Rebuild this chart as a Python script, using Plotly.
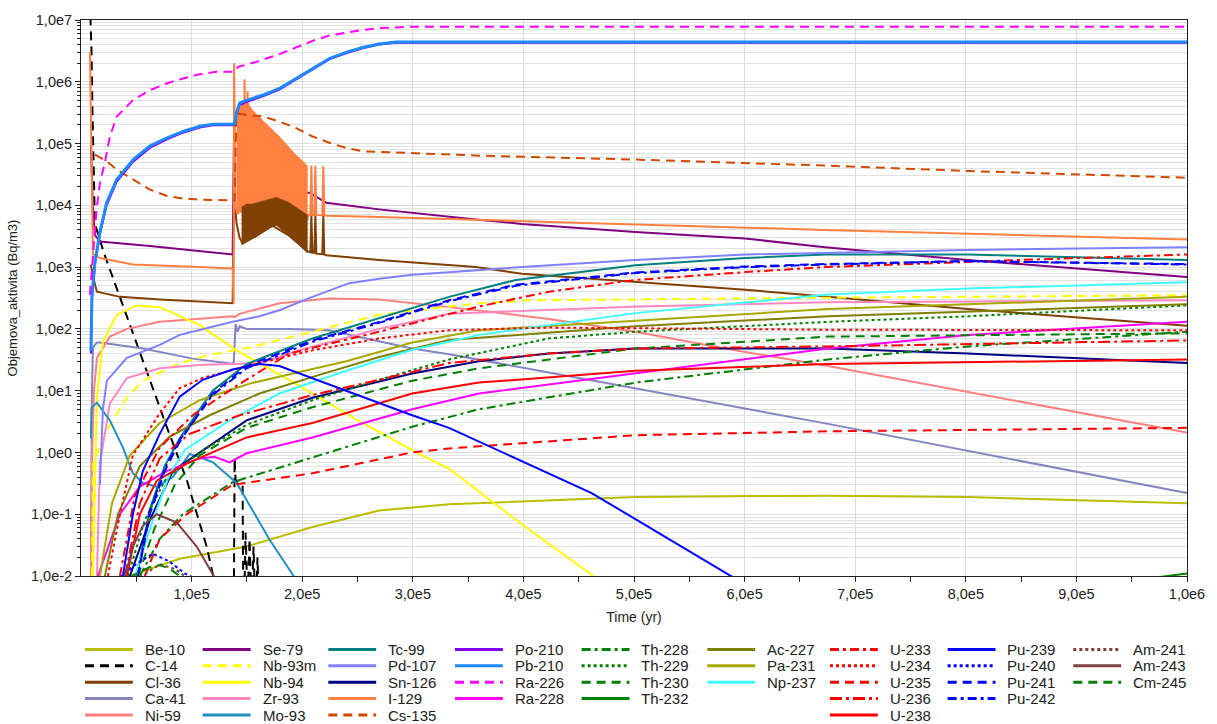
import plotly.graph_objects as go

# time [yr] and volume activity [Bq/m3]

be10_t = [39700, 89300, 149700, 209200, 269600, 332700, 501300, 675400, 801600, 1000000]
be10_a = [0.0095, 0.019, 0.03, 0.062, 0.115, 0.145, 0.19, 0.2, 0.19, 0.15]

c14_t = [8100, 9500, 10400, 12600, 20700, 32500, 46900, 62200, 77500, 95600, 113600, 120800,
         138000, 138900, 139800, 146100, 147000, 148800, 150600, 152400, 154200, 156000, 157800, 159600, 161400]
c14_a = [2e7, 3e6, 3e5, 5e3, 1.7e3, 450, 90, 15, 2.6, 0.36, 0.03, 0.008,
         0.001, 0.8, 0.35, 0.3, 0.001, 0.05, 0.004, 0.04, 0.003, 0.03, 0.002, 0.02, 0.001]

cl36_t = [9000, 10800, 14400, 35200, 71200, 137100, 138400, 140700, 143400, 146100, 158700, 173100,
          188500, 204700, 207400, 208300, 209200, 211000, 211900, 212800, 218200, 219100, 220000, 221800,
          269600, 357100, 398600, 501300, 600500, 675400, 801600, 1000000]
cl36_a = [1.1e3, 700, 400, 330, 300, 260, 1.5e4, 5e3, 3e3, 2.4e3, 3.2e3, 4.7e3,
          3.2e3, 1.8e3, 1.75e3, 7e3, 1.7e3, 1.7e3, 7e3, 1.65e3, 1.62e3, 7e3, 1.6e3, 1.55e3,
          1.3e3, 1e3, 780, 570, 430, 330, 210, 112]
# oscillating part of Cl-36 (drawn as an envelope)
cl36_band_t = [145200, 149700, 155100, 158700, 170400, 176700, 188500, 204700]
cl36_band_hi = [9.3e3, 1.05e4, 1.05e4, 1.1e4, 1.25e4, 1.35e4, 1.1e4, 7e3]
cl36_band_lo = [2.3e3, 2.7e3, 3.0e3, 3.2e3, 4.3e3, 4.7e3, 3.2e3, 1.7e3]

ca41_t = [9000, 9900, 10800, 14400, 17100, 55900, 101000, 137100, 138000, 139800, 141600, 143400,
          149700, 188500, 224500, 257900, 299400, 332700, 675400, 1000000]
ca41_a = [0.01, 10, 50, 60, 60, 48, 33, 27, 27, 120, 90, 110, 100, 100, 95, 70, 48, 39, 2.9, 0.22]

ni59_t = [9000, 9900, 11700, 14400, 26100, 41500, 71200, 137100, 138900, 143400, 179400, 224500,
          269600, 332700, 422900, 501300, 582500, 675400, 1000000]
ni59_a = [0.01, 0.7, 10, 34, 75, 100, 130, 160, 155, 175, 260, 310, 300, 225, 145, 90, 48, 25, 2.1]

se79_t = [9000, 10800, 12600, 17100, 62200, 107300, 137100, 138400, 141600, 146100, 161400, 188500,
          206500, 221800, 269600, 357100, 398600, 501300, 600500, 672700, 801600, 1000000]
se79_a = [9.3e4, 8.5e3, 3.3e3, 2.6e3, 2.2e3, 1.8e3, 1.6e3, 1.6e5, 1.2e5, 1.1e4, 1.5e4, 1.6e4,
          1.6e4, 1.1e4, 8.6e3, 5.9e3, 5e3, 3.7e3, 2.9e3, 2.1e3, 1.3e3, 690]

nb93m_t = [9900, 10800, 23400, 41500, 55900, 89300, 116300, 152400, 197500, 269600, 359800, 407600, 675400, 1000000]
nb93m_a = [0.01, 0.67, 2.3, 7.7, 14.5, 28, 38, 50, 80, 170, 260, 290, 320, 350]

nb94_t = [10800, 14400, 19800, 32500, 50500, 71200, 107300, 140700, 197500, 251600, 305700, 332700, 395800, 461700, 468000]
nb94_a = [0.01, 7.7, 62, 170, 240, 225, 115, 45, 12, 3.2, 0.95, 0.55, 0.075, 0.0105, 0.008]

zr93_t = [14400, 17100, 26100, 41500, 71200, 107300, 161400, 197500, 269600, 332700, 504100, 675400, 1000000]
zr93_a = [0.01, 0.66, 6.2, 16, 23, 26, 28, 45, 100, 175, 230, 270, 290]

mo93_t = [9000, 9500, 14400, 26100, 37900, 46900, 55900, 68500, 83000, 98300, 119000, 140700,
          149700, 170400, 191200, 197500]
mo93_a = [1.7, 5.3, 6.4, 3.3, 1.2, 0.46, 0.32, 0.28, 0.4, 0.95, 0.7, 0.32, 0.17, 0.039, 0.0107, 0.007]

tc99_t = [50500, 62200, 75700, 89300, 119000, 149700, 209200, 269600, 332700, 393100, 501300, 600500, 672700, 801600, 1000000]
tc99_a = [0.01, 0.12, 0.6, 1.7, 10, 27, 70, 150, 330, 620, 1070, 1400, 1600, 1600, 1300]

pd107_t = [17100, 19800, 23400, 41500, 71200, 89300, 137100, 161400, 179400, 209200, 242600, 269600,
           299400, 359800, 398600, 501300, 600500, 801600, 1000000]
pd107_a = [0.3, 5, 14.5, 34, 55, 80, 130, 160, 200, 330, 550, 650, 750, 900, 1e3, 1.3e3, 1.6e3, 1.9e3, 2.1e3]

sn126_t = [44200, 62200, 83000, 107300, 149700, 209200, 299400, 359800, 422900, 501300, 675400, 801600, 1000000]
sn126_a = [0.01, 0.08, 0.5, 1, 3.3, 7.7, 19, 30, 40, 48, 48, 40, 28]

i129_t = [8100, 9500, 10800, 17100, 46900, 107300, 137100, 138000, 138400, 139800, 140700, 147000,
          147900, 148800, 149700, 150600, 151500, 161400, 179400, 204700, 205600, 207400, 208300, 209200,
          211000, 211900, 212800, 218200, 219100, 220000, 221800, 269600, 357100, 501300, 672700, 1000000]
i129_a = [3e6, 5e4, 1.6e3, 1.4e3, 1.1e3, 1e3, 950, 260, 2e6, 1e4, 8e3, 8e3,
          1.1e6, 8e3, 8e3, 7e5, 9e3, 1e4, 1.1e4, 6e3, 7e3, 7e3, 4.4e4, 7e3,
          7e3, 4.4e4, 7e3, 6.9e3, 4.3e4, 6.9e3, 6.8e3, 6.5e3, 5.9e3, 4.9e3, 4e3, 2.8e3]
# oscillating part of I-129 (drawn as an envelope)
i129_band_t = [140700, 146100, 149700, 155100, 164100, 179400, 193000, 204700]
i129_band_hi = [3e5, 4.5e5, 4.8e5, 3.5e5, 2.4e5, 1.3e5, 7e4, 4.4e4]
i129_band_lo = [7e3, 8e3, 9e3, 9.5e3, 1.1e4, 1.2e4, 9e3, 6e3]

cs135_t = [12600, 23200, 32200, 47200, 62200, 77300, 92200, 107300, 137100, 138900, 140400, 149400,
           164400, 179400, 194500, 209500, 224500, 239600, 254600, 284700, 314700, 357100,
           501300, 672700, 801600, 1000000]
cs135_a = [6.6e4, 5.2e4, 3.8e4, 2.6e4, 1.8e4, 1.43e4, 1.29e4, 1.24e4, 1.2e4, 1.2e4, 3.1e5, 2.9e5,
           2.75e5, 2.27e5, 1.78e5, 1.3e5, 1.03e5, 8.5e4, 7.5e4, 7.1e4, 6.9e4, 6.4e4,
           5.5e4, 4.4e4, 3.6e4, 2.8e4]

pb210_t = [9000, 9900, 12600, 17100, 23200, 32200, 47200, 62200, 77300, 92200, 107300, 119300,
           137100, 138900, 140400, 143400, 149400, 164400, 179400, 194500, 209500, 224500,
           239600, 254600, 269600, 284700, 305700, 1000000]
pb210_a = [44, 350, 1.2e3, 3.7e3, 1.1e4, 2.6e4, 5.5e4, 9.1e4, 1.23e5, 1.57e5, 1.9e5, 2.05e5,
           2.05e5, 2.1e5, 3.1e5, 4.5e5, 5e5, 6.1e5, 7.8e5, 1.13e6, 1.64e6, 2.37e6,
           3.0e6, 3.6e6, 4.1e6, 4.4e6, 4.4e6, 4.4e6]
po210_t = pb210_t
po210_a = [40, 300, 1.1e3, 3.4e3, 1.0e4, 2.4e4, 5.1e4, 8.5e4, 1.16e5, 1.5e5, 1.82e5, 1.98e5,
           1.98e5, 2.0e5, 2.9e5, 4.2e5, 4.7e5, 5.8e5, 7.5e5, 1.08e6, 1.58e6, 2.3e6,
           2.9e6, 3.5e6, 4.0e6, 4.3e6, 4.3e6, 4.3e6]

ra226_t = [8100, 11100, 14100, 17100, 21600, 26100, 32200, 47200, 62200, 77300, 92200, 107300,
           122300, 137100, 138900, 141900, 158500, 179400, 194500, 209500, 224500, 239600,
           254600, 269600, 284700, 299700, 1000000]
ra226_a = [355, 1.75e3, 8.7e3, 2.3e4, 4.9e4, 1.3e5, 2.7e5, 5.1e5, 7.3e5, 9.4e5, 1.13e6, 1.32e6,
           1.45e6, 1.45e6, 1.45e6, 1.74e6, 2.1e6, 2.8e6, 3.6e6, 4.6e6, 5.6e6, 6.3e6,
           6.9e6, 7.4e6, 7.6e6, 7.8e6, 7.8e6]

ra228_t = [15300, 35200, 53200, 77500, 107300, 120800, 134400, 149700, 209200, 299400, 359800,
           501300, 675400, 801600, 1000000]
ra228_a = [0.01, 0.1, 0.28, 0.5, 0.8, 0.85, 0.69, 0.97, 1.75, 5, 9, 19, 48, 80, 130]

th228_t = [53200, 71200, 92000, 137100, 209200, 299400, 359800, 501300, 675400, 801600, 1000000]
th228_a = [0.01, 0.04, 0.1, 0.33, 0.83, 2.6, 5, 13.5, 32, 52, 90]

th229_t = [42400, 57700, 75700, 107300, 149700, 209200, 269600, 332700, 422900, 501300, 675400, 801600, 1000000]
th229_a = [0.01, 0.08, 0.35, 1.0, 2.8, 7, 15, 32, 70, 90, 130, 160, 240]

th230_t = [51400, 66700, 84800, 107300, 149700, 209200, 299400, 359800, 501300, 675400, 1000000]
th230_a = [0.01, 0.06, 0.3, 0.9, 2.5, 5.4, 14.5, 23, 48, 75, 85]

th232_t = [973000, 986500, 1000000]
th232_a = [0.0095, 0.0103, 0.011]

ac227_t = [21600, 33400, 53200, 80300, 116300, 161400, 215500, 269600, 332700, 501300, 675400, 1000000]
ac227_a = [0.01, 0.1, 0.6, 1.8, 4, 9, 18, 35, 66, 110, 160, 250]

pa231_t = [17100, 28000, 44200, 71200, 107300, 152400, 197500, 239900, 299400, 359800, 501300, 675400, 1000000]
pa231_a = [0.01, 0.15, 0.9, 3, 7, 13, 20, 30, 60, 95, 135, 210, 330]

np237_t = [48700, 64900, 80300, 93800, 134400, 179400, 239900, 299400, 332700, 359800, 501300, 675400, 801600, 1000000]
np237_a = [0.01, 0.08, 0.45, 1.1, 3.3, 9, 21, 46, 62, 80, 180, 360, 450, 570]

u233_t = [35200, 48700, 71200, 101000, 140700, 188500, 269600, 359800, 422900, 501300, 600500, 672700, 846700, 1000000]
u233_a = [0.01, 0.2, 1.2, 4, 12, 40, 90, 230, 400, 620, 830, 1000, 1300, 1600]

u234_t = [24300, 35200, 46900, 71200, 89300, 110000, 149700, 209200, 269600, 332700, 422900, 675400, 1000000]
u234_a = [0.01, 0.1, 0.9, 4.3, 11, 16, 25, 45, 70, 95, 105, 97, 95]

u235_t = [57700, 71200, 95600, 137100, 209200, 299400, 332700, 501300, 675400, 1000000]
u235_a = [0.01, 0.04, 0.1, 0.3, 0.46, 1.0, 1.16, 1.9, 2.2, 2.5]

u236_t = [39700, 53200, 71200, 98300, 143400, 209200, 269600, 332700, 422900, 501300, 675400, 1000000]
u236_a = [0.01, 0.15, 0.8, 2, 4, 8.5, 15, 28, 40, 48, 52, 65]

u238_t = [41500, 53200, 68500, 95600, 149700, 209200, 299400, 359800, 501300, 675400, 1000000]
u238_a = [0.01, 0.1, 0.35, 0.66, 1.75, 3, 9, 13.5, 21, 27, 32]

pu239_t = [37900, 46900, 55900, 71200, 89300, 110000, 137100, 161400, 179400, 239900, 299400, 332700, 461700, 589700]
pu239_a = [0.01, 0.1, 0.5, 2, 8, 15, 22, 27, 25, 10, 4, 2.5, 0.22, 0.0095]

pu240_t = [35200, 48700, 64900, 80300, 93800, 101000]
pu240_a = [0.0095, 0.015, 0.023, 0.017, 0.011, 0.0095]

pu241_t = [51400, 62200, 75700, 89300, 119000, 149700, 209200, 269600, 332700, 393100, 501300, 600500, 672700, 801600, 1000000]
pu241_a = [0.01, 0.1, 0.5, 1.5, 9, 25, 65, 130, 290, 520, 820, 1020, 1120, 1250, 1120]
pu242_t = pu241_t
pu242_a = [0.01, 0.11, 0.55, 1.6, 8.5, 23, 62, 125, 280, 500, 800, 1000, 1100, 1250, 1100]

am241_t = [53200, 71200, 84800, 95600]
am241_a = [0.0095, 0.0155, 0.013, 0.0095]

am243_t = [39700, 46900, 55900, 68500, 86600, 104600, 120800]
am243_a = [0.0095, 0.03, 0.065, 0.1, 0.073, 0.03, 0.0095]

cm245_t = [44200, 62200, 71200, 80300, 91100]
cm245_a = [0.0095, 0.014, 0.015, 0.013, 0.0095]

# name: (time, activity, colour, dash)
DASH = "9px,6px"
DOT = "3px,3px"
DASHDOT = "9px,4px,3px,4px"
series = {
    "Be-10": (be10_t, be10_a, "#BDBD00", "solid"),
    "C-14": (c14_t, c14_a, "#000000", DASH),
    "Cl-36": (cl36_t, cl36_a, "#804000", "solid"),
    "Ca-41": (ca41_t, ca41_a, "#8484C4", "solid"),
    "Ni-59": (ni59_t, ni59_a, "#FF8080", "solid"),
    "Se-79": (se79_t, se79_a, "#800080", "solid"),
    "Nb-93m": (nb93m_t, nb93m_a, "#FFFF00", DASH),
    "Nb-94": (nb94_t, nb94_a, "#FFFF00", "solid"),
    "Zr-93": (zr93_t, zr93_a, "#FF88C0", "solid"),
    "Mo-93": (mo93_t, mo93_a, "#2090C0", "solid"),
    "Tc-99": (tc99_t, tc99_a, "#008080", "solid"),
    "Pd-107": (pd107_t, pd107_a, "#8080FF", "solid"),
    "Sn-126": (sn126_t, sn126_a, "#000080", "solid"),
    "I-129": (i129_t, i129_a, "#FF8040", "solid"),
    "Cs-135": (cs135_t, cs135_a, "#D04A00", DASH),
    "Po-210": (po210_t, po210_a, "#8000FF", "solid"),
    "Pb-210": (pb210_t, pb210_a, "#1E88FF", "solid"),
    "Ra-226": (ra226_t, ra226_a, "#FF00FF", DASH),
    "Ra-228": (ra228_t, ra228_a, "#FF00FF", "solid"),
    "Th-228": (th228_t, th228_a, "#008000", DASHDOT),
    "Th-229": (th229_t, th229_a, "#008000", DOT),
    "Th-230": (th230_t, th230_a, "#008000", DASH),
    "Th-232": (th232_t, th232_a, "#008000", "solid"),
    "Ac-227": (ac227_t, ac227_a, "#808000", "solid"),
    "Pa-231": (pa231_t, pa231_a, "#A8A800", "solid"),
    "Np-237": (np237_t, np237_a, "#40FFFF", "solid"),
    "U-233": (u233_t, u233_a, "#FF0000", DASHDOT),
    "U-234": (u234_t, u234_a, "#FF0000", DOT),
    "U-235": (u235_t, u235_a, "#FF0000", DASH),
    "U-236": (u236_t, u236_a, "#FF0000", "12px,4px,3px,4px"),
    "U-238": (u238_t, u238_a, "#FF0000", "solid"),
    "Pu-239": (pu239_t, pu239_a, "#0000FF", "solid"),
    "Pu-240": (pu240_t, pu240_a, "#0000FF", DOT),
    "Pu-241": (pu241_t, pu241_a, "#0000FF", DASH),
    "Pu-242": (pu242_t, pu242_a, "#0000FF", DASHDOT),
    "Am-241": (am241_t, am241_a, "#804040", DOT),
    "Am-243": (am243_t, am243_a, "#804040", "solid"),
    "Cm-245": (cm245_t, cm245_a, "#008000", DASH),
}

legend_cols = [
    ["Be-10", "C-14", "Cl-36", "Ca-41", "Ni-59"],
    ["Se-79", "Nb-93m", "Nb-94", "Zr-93", "Mo-93"],
    ["Tc-99", "Pd-107", "Sn-126", "I-129", "Cs-135"],
    ["Po-210", "Pb-210", "Ra-226", "Ra-228"],
    ["Th-228", "Th-229", "Th-230", "Th-232"],
    ["Ac-227", "Pa-231", "Np-237"],
    ["U-233", "U-234", "U-235", "U-236", "U-238"],
    ["Pu-239", "Pu-240", "Pu-241", "Pu-242"],
    ["Am-241", "Am-243", "Cm-245"],
]

x_ticks = [100000 * k for k in range(1, 11)]
x_labels = ["1,0e5", "2,0e5", "3,0e5", "4,0e5", "5,0e5", "6,0e5", "7,0e5", "8,0e5", "9,0e5", "1,0e6"]
y_ticks = [1e-2, 1e-1, 1e0, 1e1, 1e2, 1e3, 1e4, 1e5, 1e6, 1e7]
y_labels = ["1,0e-2", "1,0e-1", "1,0e0", "1,0e1", "1,0e2", "1,0e3", "1,0e4", "1,0e5", "1,0e6", "1,0e7"]

FONT = "Liberation Sans, Arial, sans-serif"
W, H = 1217, 724
L, R, T, B = 81, 27, 16, 148
pw, ph = W - L - R, H - T - B


def band(t, hi, lo, colour):
    return go.Scatter(x=t + t[::-1], y=hi + lo[::-1], mode="lines", fill="toself",
                      fillcolor=colour, line=dict(color=colour, width=0.5),
                      showlegend=False, hoverinfo="skip")


fig = go.Figure()
for col in legend_cols:
    for name in col:
        t, a, colour, dash = series[name]
        fig.add_trace(go.Scatter(x=t, y=a, mode="lines", name=name, showlegend=False,
                                 line=dict(color=colour, dash=dash, width=3 if name == "Pb-210" else 2)))
        if name == "I-129":
            fig.add_trace(band(i129_band_t, i129_band_hi, i129_band_lo, colour))
            fig.add_trace(band(cl36_band_t, cl36_band_hi, cl36_band_lo, series["Cl-36"][2]))

# legend in columns, as in the original
col_px = [85, 203, 329, 456, 583, 709, 832, 950, 1076]
row_px = [650, 666.5, 683, 699.5, 716]
shapes, annots = [], []
for cx, col in zip(col_px, legend_cols):
    for ry, name in zip(row_px, col):
        colour, dash = series[name][2], series[name][3]
        yy = (H - B - ry) / ph
        shapes.append(dict(type="line", xref="paper", yref="paper",
                           x0=(cx - L) / pw, x1=(cx + 48 - L) / pw, y0=yy, y1=yy,
                           line=dict(color=colour, dash=dash, width=3)))
        annots.append(dict(text=name, xref="paper", yref="paper", x=(cx + 58 - L) / pw, y=yy,
                           xanchor="left", yanchor="middle", showarrow=False,
                           font=dict(family=FONT, size=15, color="#222")))

fig.update_layout(
    width=W, height=H, autosize=False,
    margin=dict(l=L, r=R, t=T, b=B),
    plot_bgcolor="white", paper_bgcolor="white",
    showlegend=False,
    shapes=shapes, annotations=annots,
    font=dict(family=FONT, color="#222"),
)
fig.update_xaxes(
    range=[0, 1000000], tickvals=x_ticks, ticktext=x_labels,
    tickfont=dict(size=14.5), ticks="outside", ticklen=5, tickcolor="#222",
    showline=True, linecolor="#222", mirror=True,
    showgrid=True, gridcolor="#DDDDDD", zeroline=False,
    minor=dict(tickvals=[50000 + 100000 * k for k in range(10)], ticks="outside", ticklen=5,
               tickcolor="#222", showgrid=False),
    title=dict(text="Time (yr)", font=dict(size=14), standoff=10),
)
fig.update_yaxes(
    type="log", range=[-2, 7], tickvals=y_ticks, ticktext=y_labels,
    tickfont=dict(size=14.5), ticks="outside", ticklen=5, tickcolor="#222",
    showline=True, linecolor="#222", mirror=True,
    showgrid=True, gridcolor="#DDDDDD", zeroline=False,
    minor=dict(tickvals=[k * 10 ** e for e in range(-2, 7) for k in range(2, 10)],
               ticks="outside", ticklen=3, tickcolor="#222", showgrid=True, gridcolor="#E2E2E2"),
    title=dict(text="Objemova_aktivita (Bq/m3)", font=dict(size=13), standoff=10),
)

fig.write_html("out.html", config={"displayModeBar": False},
               post_script="document.body.style.margin='0px';")
